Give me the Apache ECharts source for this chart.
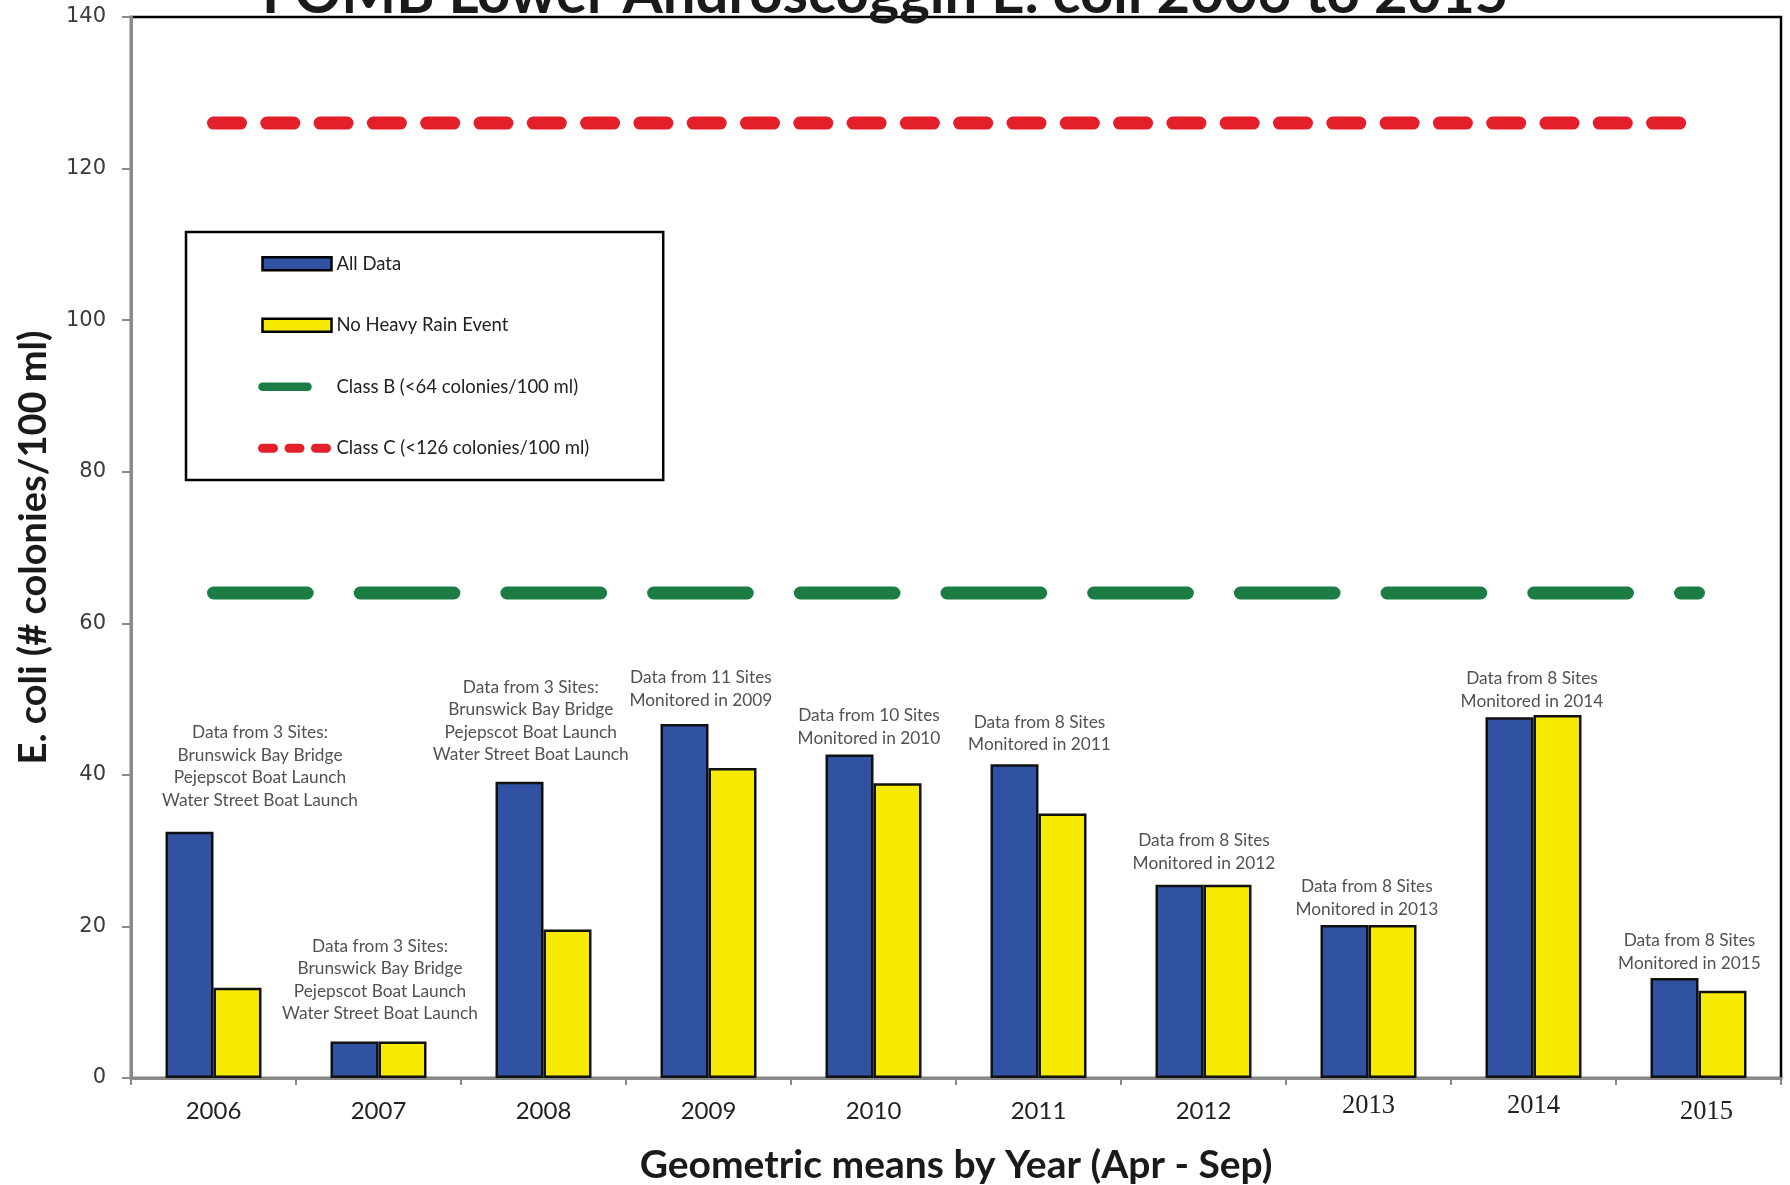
<!DOCTYPE html>
<html>
<head>
<meta charset="utf-8">
<script src="https://cdn.jsdelivr.net/npm/echarts@6/dist/echarts.min.js"></script>
<style>
html,body{margin:0;padding:0;background:#fff;}
#c{width:1790px;height:1185px;}
</style>
</head>
<body>
<div id="c"></div>
<script>
// ---- data ----
const years = ['2006','2007','2008','2009','2010','2011','2012','2013','2014','2015'];
const allData = [32.5, 4.8, 39.1, 46.7, 42.7, 41.4, 25.5, 20.2, 47.6, 13.2];
const noHeavyRain = [11.9, 4.8, 19.6, 40.9, 38.9, 34.9, 25.5, 20.2, 47.9, 11.5];
const classB = 64;
const classC = 126;
const yMin = 0, yMax = 140, yStep = 20;
const threeSites = 'Data from 3 Sites:\nBrunswick Bay Bridge\nPejepscot Boat Launch\nWater Street Boat Launch';
const siteNotes = [
  threeSites, threeSites, threeSites,
  'Data from 11 Sites\nMonitored in 2009',
  'Data from 10 Sites\nMonitored in 2010',
  'Data from 8 Sites\nMonitored in 2011',
  'Data from 8 Sites\nMonitored in 2012',
  'Data from 8 Sites\nMonitored in 2013',
  'Data from 8 Sites\nMonitored in 2014',
  'Data from 8 Sites\nMonitored in 2015'
];
const names = ['All Data','No Heavy Rain Event','Class B (<64 colonies/100 ml)','Class C (<126 colonies/100 ml)'];

// ---- layout tweaks for the annotation labels (pixels) ----
const noteOffsets = [[46.5,-20],[1.5,-16],[-12.7,-15],[-7.6,-12],[-4.5,-4.5],[1,-8],[0.5,-10],[-1.7,-4],[-1.5,-2],[-9,-3]];
// ---- label style per year (the source mixes fonts) ----
const yearStyle = {'2013': 'up', '2014': 'up', '2015': 'serif'};

const chart = echarts.init(document.getElementById('c'), null, {renderer:'canvas'});
const gray = '#8a8a8a';
const serifFont = "'Liberation Serif', 'Times New Roman', serif";
const option = {
  animation: false,
  backgroundColor: '#fff',
  title: {
    text: 'FOMB Lower Androscoggin E. coli 2006 to 2015',
    left: 257, top: -40,
    textStyle: {fontFamily: 'Lato', fontWeight: 'bold', fontSize: 58, color: '#1a1a1a'}
  },
  legend: {
    orient: 'vertical', left: 186, top: 232,
    padding: [21.7, 74, 21.7, 72],
    itemWidth: 69, itemHeight: 13, itemGap: 41.5,
    borderColor: '#000', borderWidth: 2.5, backgroundColor: '#fff',
    textStyle: {fontFamily: 'Lato', fontSize: 18.5, color: '#222', lineHeight: 20},
    data: [
      {name: names[0], icon: 'rect', itemStyle: {borderColor: '#000', borderWidth: 2.5}},
      {name: names[1], icon: 'rect', itemStyle: {borderColor: '#000', borderWidth: 2.5}},
      {name: names[2], itemStyle: {color: 'transparent', borderWidth: 0}, lineStyle: {width: 8.5, type: [45, 100], cap: 'round'}},
      {name: names[3], itemStyle: {color: 'transparent', borderWidth: 0}, lineStyle: {width: 9, type: [11, 15.5], cap: 'round'}}
    ]
  },
  grid: {left: 131, right: 9, top: 17, bottom: 107, show: true, borderColor: '#000', borderWidth: 2.5,
         containLabel: false, outerBoundsMode: 'none'},
  xAxis: {
    type: 'category', data: years,
    name: 'Geometric means by Year (Apr - Sep)', nameLocation: 'middle', nameGap: 68,
    nameTextStyle: {fontFamily: 'Lato', fontWeight: 'bold', fontSize: 39, color: '#1a1a1a'},
    axisLine: {lineStyle: {color: gray, width: 3}},
    axisTick: {show: true, length: 7, alignWithLabel: false, lineStyle: {color: gray, width: 2}},
    axisLabel: {
      margin: 15, fontFamily: 'Lato', fontSize: 24, color: '#222',
      formatter: function (v) {
        const k = yearStyle[v];
        if (k === 'up') return '{s|' + v + '}';
        if (k === 'serif') return '{t|' + v + '}';
        return '{n|' + v + '}';
      },
      rich: {
        n: {fontFamily: 'Lato', fontSize: 24, color: '#222', padding: [6,0,0,0]},
        s: {fontFamily: serifFont, fontSize: 26.5, color: '#222', padding: [0,0,0,0]},
        t: {fontFamily: serifFont, fontSize: 26.5, color: '#222', padding: [6,0,0,16]}
      }
    },
    splitLine: {show: false}
  },
  yAxis: {
    type: 'value', min: yMin, max: yMax, interval: yStep,
    name: 'E. coli (# colonies/100 ml)', nameLocation: 'middle', nameRotate: 90, nameGap: 78,
    nameTextStyle: {fontFamily: 'Lato', fontWeight: 'bold', fontSize: 38, color: '#1a1a1a'},
    axisLine: {show: true, lineStyle: {color: gray, width: 3}},
    axisTick: {show: true, length: 9, lineStyle: {color: gray, width: 2}},
    axisLabel: {margin: 25, fontFamily: 'DejaVu Sans', fontSize: 21, color: '#3a3a3a'},
    splitLine: {show: false}
  },
  series: [
    {
      name: names[0], type: 'bar', data: allData, barWidth: 48, barGap: '0%',
      itemStyle: {color: '#3152A3', borderColor: '#111', borderWidth: 2.5}
    },
    {
      name: names[1], type: 'bar', data: noHeavyRain, barWidth: 48, barGap: '0%',
      itemStyle: {color: '#F5EA00', borderColor: '#111', borderWidth: 2.5}
    },
    {
      name: names[2], type: 'line', data: years.map(function () { return classB; }),
      symbol: 'none', silent: true,
      lineStyle: {color: '#1B7D43', width: 13, type: [93.7, 53], cap: 'round'},
      itemStyle: {color: '#1B7D43'}
    },
    {
      name: names[3], type: 'line', data: years.map(function () { return classC; }),
      symbol: 'none', silent: true,
      lineStyle: {color: '#E3202A', width: 13, type: [27, 26.3], cap: 'round'},
      itemStyle: {color: '#E3202A'}
    },
    {
      name: 'notes', type: 'scatter', symbolSize: 1, silent: true,
      itemStyle: {color: 'transparent'},
      data: years.map(function (y, i) {
        return {value: Math.max(allData[i], noHeavyRain[i]), label: {offset: noteOffsets[i]}};
      }),
      label: {
        show: true, position: 'top', distance: 0, align: 'center',
        fontFamily: 'Lato', fontSize: 17.3, lineHeight: 22.5, color: '#262626',
        formatter: function (p) { return siteNotes[p.dataIndex]; }
      }
    }
  ]
};
chart.setOption(option);
</script>
</body>
</html>
